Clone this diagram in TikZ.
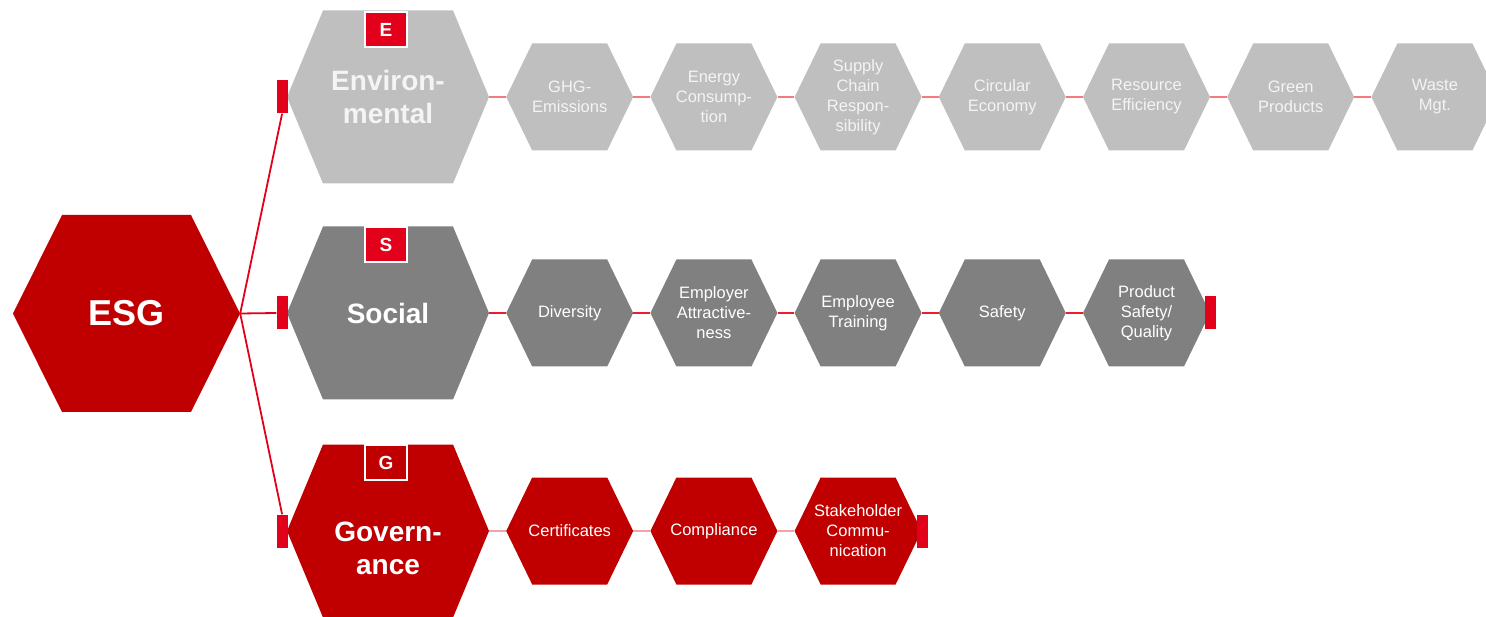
\documentclass[tikz,border=0pt]{standalone}
\usepackage{fontspec}
\setmainfont{Liberation Sans}
\usetikzlibrary{positioning}

\definecolor{esgred}{RGB}{192,0,0}
\definecolor{barred}{RGB}{226,0,26}
\definecolor{envgray}{RGB}{191,191,191}
\definecolor{socgray}{RGB}{128,128,128}
\definecolor{envtext}{RGB}{244,244,244}
\definecolor{envlink}{RGB}{242,122,128}
\definecolor{soclink}{RGB}{232,32,42}
\definecolor{govlink}{RGB}{244,162,162}

\begin{document}
\begin{tikzpicture}[x=1pt, y=-1pt,
        hexagon/.style 2 args={rectangle, inner sep=0pt, align=center,
                     path picture={\fill[#1]
                        (path picture bounding box.west)
                        -- ([xshift=#2]path picture bounding box.north west)
                        -- ([xshift=-#2]path picture bounding box.north east)
                        -- (path picture bounding box.east)
                        -- ([xshift=-#2]path picture bounding box.south east)
                        -- ([xshift=#2]path picture bounding box.south west)
                        -- cycle;}},
        root/.style={hexagon={esgred}{49pt}, minimum width=227pt, minimum height=197pt,
                     text=white, font=\fontsize{36}{40}\selectfont\bfseries},
        pillar title/.style={text=white, align=center, font=\fontsize{28}{33}\selectfont\bfseries},
        pillar/.style={hexagon={#1}{36pt}, minimum width=202pt, minimum height=173pt, pillar title},
        topic/.style={hexagon={#1}{26pt}, minimum width=127pt, minimum height=107pt,
                     text=white, font=\fontsize{16.5}{20}\selectfont},
        badge/.style={rectangle, draw=white, line width=1.5pt, fill=#1, inner sep=0pt,
                     minimum width=42pt, minimum height=35pt,
                     text=white, font=\fontsize{19}{19}\selectfont\bfseries},
        marker/.style={rectangle, fill=barred, inner sep=0pt, minimum width=11pt, minimum height=33pt},
        branch/.style={draw=barred, line width=1.8pt},
        link/.style={draw=#1, line width=2pt}
    ]
    \useasboundingbox (0,0) rectangle (1486,617);

    % ESG root and the three pillars
    \node[root] (esg) at (126.5,313.5) {ESG};
    \node[pillar=envgray, text=envtext] (env) at (388,97) {Environ-\\mental};
    \node[pillar=socgray] (soc) at (388,313) {Social};
    \node[pillar=esgred, label={[pillar title, yshift=-17pt]center:{Govern-\\ance}}] (gov) at (388,531) {};

    \node[badge=barred, anchor=north, xshift=-2pt, yshift=-1pt] (ebadge) at (env.north) {E};
    \node[badge=barred, anchor=north, xshift=-2pt] (sbadge) at (soc.north) {S};
    \node[badge=esgred, anchor=north, xshift=-2pt] (gbadge) at (gov.north) {G};

    \node[marker, anchor=east, xshift=1pt] (envbar) at (env.west) {};
    \node[marker, anchor=east, xshift=1pt] (socbar) at (soc.west) {};
    \node[marker, anchor=east, xshift=1pt] (govbar) at (gov.west) {};

    \draw[branch] (esg.east) -- (envbar.south);
    \draw[branch] (esg.east) -- (socbar.west);
    \draw[branch] (esg.east) -- (govbar.north);

    % topic chains
    \foreach \name/\txt [remember=\name as \last (initially env)] in
        {ghg/{GHG-\\Emissions}, energy/{Energy\\Consump-\\tion},
         supply/{Supply\\Chain\\Respon-\\sibility}, circular/{Circular\\Economy},
         resource/{Resource\\Efficiency}, green/{Green\\Products}, waste/{Waste\\Mgt.}}
    {
        \node[topic=envgray, text=envtext, right=16.8pt of \last] (\name) {\txt};
        \draw[link=envlink] (\last.east) -- (\name.west);
    }

    \foreach \name/\txt [remember=\name as \last (initially soc)] in
        {diversity/Diversity, employer/{Employer\\Attractive-\\ness},
         training/{Employee\\Training}, safety/Safety, product/{Product\\Safety/\\Quality}}
    {
        \node[topic=socgray, right=16.8pt of \last] (\name) {\txt};
        \draw[link=soclink] (\last.east) -- (\name.west);
    }

    \foreach \name/\txt [remember=\name as \last (initially gov)] in
        {certificates/Certificates, compliance/Compliance,
         stakeholder/{Stakeholder\\Commu-\\nication}}
    {
        \node[topic=esgred, right=16.8pt of \last] (\name) {\txt};
        \draw[link=govlink] (\last.east) -- (\name.west);
    }

    \node[marker, anchor=west, xshift=-5pt] (socend) at (product.east) {};
    \node[marker, anchor=west, xshift=-5pt] (govend) at (stakeholder.east) {};

\end{tikzpicture}
\end{document}
